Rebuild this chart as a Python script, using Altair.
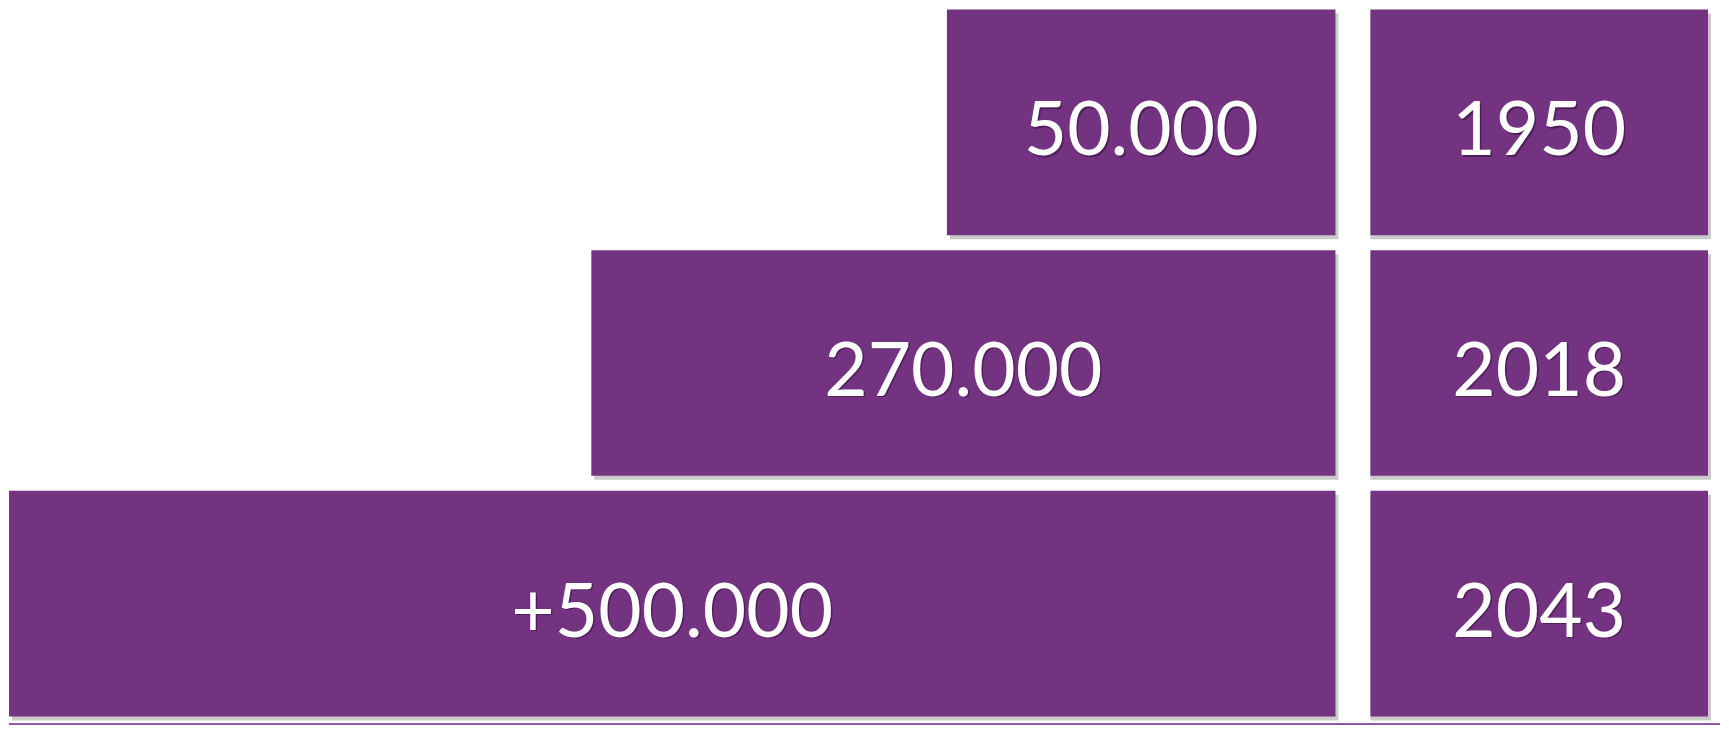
import altair as alt
import pandas as pd

# ---- data ----
years = ["1950", "2018", "2043"]
values = [50000, 270000, 500000]
value_labels = ["50.000", "270.000", "+500.000"]

df = pd.DataFrame({"year": years, "value": values, "label": value_labels})

PURPLE = "#733381"
SHADOW = "#7a7a7a"
TEXT_SHADOW = "#2a0d33"
LINE = "#8b4a9c"
FONT = "Lato"
FSIZE = 75
H = 720
LEFT_W = 1363
RIGHT_W = 338

yenc = alt.Y(
    "year:N",
    sort=years,
    axis=None,
    scale=alt.Scale(paddingInner=0.0622, paddingOuter=0.0249, align=0.083),
)

# bars are right-aligned, drawn through a piecewise (non-proportional) scale like the infographic
xscale = alt.Scale(domain=[0, 50000, 270000, 500000], range=[1328, 939, 583, 0])
xenc = alt.X("value:Q", axis=None, scale=xscale)

mid_expr = "(scale('concat_0_x', 0) - scale('concat_0_x', datum.value)) / 2"

base = alt.Chart(df)

bar_shadow = base.mark_bar(
    color=SHADOW, opacity=0.4, xOffset=3, x2Offset=3, yOffset=4, y2Offset=4
).encode(x=xenc, y=yenc)
bars = base.mark_bar(color=PURPLE).encode(x=xenc, y=yenc)

label_shadow = base.mark_text(
    font=FONT, fontSize=FSIZE, color=TEXT_SHADOW, opacity=0.5,
    align="center", baseline="middle", dx=1.5, dy=11.5,
    xOffset=alt.ExprRef(mid_expr),
).encode(x=xenc, y=yenc, text="label:N")
labels = base.mark_text(
    font=FONT, fontSize=FSIZE, color="white",
    align="center", baseline="middle", dy=10,
    xOffset=alt.ExprRef(mid_expr),
).encode(x=xenc, y=yenc, text="label:N")

# thin baseline running under both panels
bottom_line = base.mark_rule(color=LINE, strokeWidth=1.4).encode(
    x=alt.value(0), x2=alt.value(1713), y=alt.value(716.5)
)

left = alt.layer(bar_shadow, bars, label_shadow, labels, bottom_line).properties(
    width=LEFT_W, height=H
)

year_shadow = base.mark_rect(
    color=SHADOW, opacity=0.4, xOffset=3, x2Offset=3, yOffset=4, y2Offset=4
).encode(y=yenc)
year_box = base.mark_rect(color=PURPLE).encode(y=yenc)
year_text_shadow = base.mark_text(
    font=FONT, fontSize=FSIZE, color=TEXT_SHADOW, opacity=0.5,
    align="center", baseline="middle", dx=1.5, dy=11.5,
).encode(y=yenc, text="year:N")
year_text = base.mark_text(
    font=FONT, fontSize=FSIZE, color="white",
    align="center", baseline="middle", dy=10,
).encode(y=yenc, text="year:N")

right = alt.layer(year_shadow, year_box, year_text_shadow, year_text).properties(
    width=RIGHT_W, height=H
)

chart = (
    alt.hconcat(left, right, spacing=0, bounds="flush")
    .properties(padding=0, background="white")
    .configure_view(stroke=None)
)

chart.save("out.html", embed_options={"renderer": "svg", "actions": False})
